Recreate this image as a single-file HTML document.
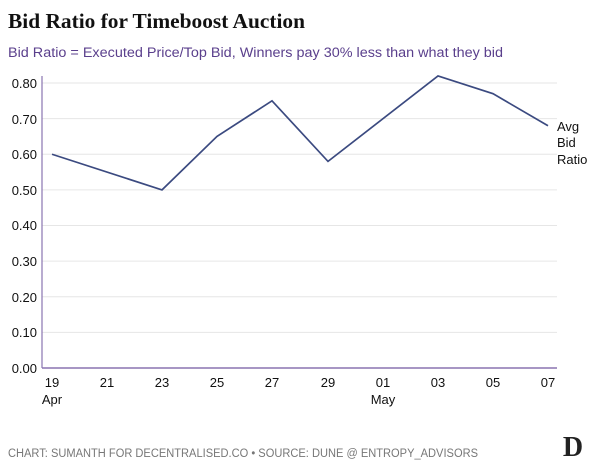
<!DOCTYPE html><html><head><style>body{margin:0;width:600px;height:467px;background:#fff;overflow:hidden}</style></head><body>
<svg width="600" height="467" xmlns="http://www.w3.org/2000/svg" font-family="Liberation Sans, sans-serif">
<text x="8" y="28" font-family="Liberation Serif, serif" font-weight="bold" font-size="21" fill="#111" textLength="297" lengthAdjust="spacingAndGlyphs">Bid Ratio for Timeboost Auction</text>
<text x="8" y="57" font-size="13.5" fill="#5a3f8c" textLength="495" lengthAdjust="spacingAndGlyphs">Bid Ratio = Executed Price/Top Bid, Winners pay 30% less than what they bid</text>
<g stroke="#e6e6e6" stroke-width="1">
<line x1="42" x2="557" y1="83" y2="83"/><line x1="42" x2="557" y1="118.6" y2="118.6"/><line x1="42" x2="557" y1="154.25" y2="154.25"/><line x1="42" x2="557" y1="189.9" y2="189.9"/><line x1="42" x2="557" y1="225.5" y2="225.5"/><line x1="42" x2="557" y1="261.1" y2="261.1"/><line x1="42" x2="557" y1="296.75" y2="296.75"/><line x1="42" x2="557" y1="332.4" y2="332.4"/>
</g>
<line x1="42" x2="42" y1="76" y2="368" stroke="#8a74b0" stroke-width="1.2"/>
<line x1="42" x2="557" y1="368" y2="368" stroke="#8a74b0" stroke-width="1.5"/>
<g font-size="13" fill="#111" text-anchor="end">
<text x="37" y="88">0.80</text><text x="37" y="124">0.70</text><text x="37" y="159">0.60</text><text x="37" y="195">0.50</text><text x="37" y="230">0.40</text><text x="37" y="266">0.30</text><text x="37" y="302">0.20</text><text x="37" y="337">0.10</text><text x="37" y="373">0.00</text>
</g>
<g font-size="13" fill="#111" text-anchor="middle">
<text x="52" y="387">19</text><text x="107" y="387">21</text><text x="162" y="387">23</text><text x="217" y="387">25</text><text x="272" y="387">27</text><text x="328" y="387">29</text><text x="383" y="387">01</text><text x="438" y="387">03</text><text x="493" y="387">05</text><text x="548" y="387">07</text>
<text x="52" y="404">Apr</text><text x="383" y="404">May</text>
</g>
<polyline fill="none" stroke="#3b4a80" stroke-width="1.7" points="52,154.25 162,189.9 217,136.4 272,100.8 328,161.4 438,75.9 493,93.7 548,125.75"/>
<g font-size="13" fill="#111"><text x="557" y="131">Avg</text><text x="557" y="147">Bid</text><text x="557" y="164">Ratio</text></g>
<text x="8" y="457" font-size="11.5" fill="#777" textLength="470" lengthAdjust="spacingAndGlyphs">CHART: SUMANTH FOR DECENTRALISED.CO • SOURCE: DUNE @ ENTROPY_ADVISORS</text>
<text x="573" y="456" font-family="Liberation Serif, serif" font-weight="bold" font-size="28" fill="#222" text-anchor="middle">D</text>
</svg></body></html>
